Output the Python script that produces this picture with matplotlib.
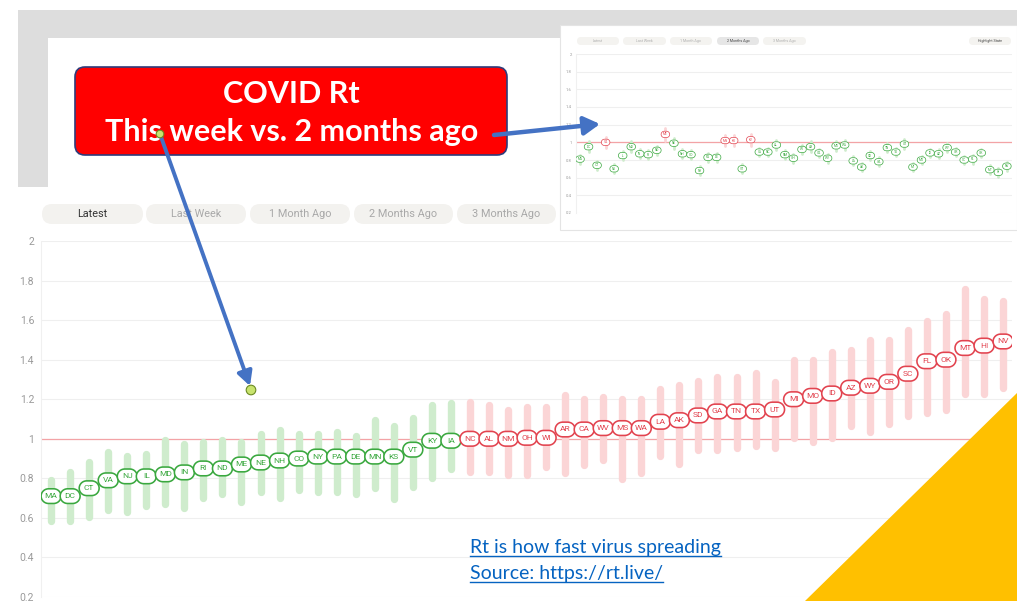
import numpy as np
import matplotlib
matplotlib.use('Agg')
import matplotlib.pyplot as plt
from matplotlib.path import Path
from matplotlib.patches import Rectangle, FancyBboxPatch, Polygon, Circle

plt.rcParams['font.family'] = ['Roboto', 'DejaVu Sans']

# ---- data ----
states = ['MA', 'DC', 'CT', 'VA', 'NJ', 'IL', 'MD', 'IN', 'RI', 'ND',
          'ME', 'NE', 'NH', 'CO', 'NY', 'PA', 'DE', 'MN', 'KS', 'VT',
          'KY', 'IA', 'NC', 'AL', 'NM', 'OH', 'WI', 'AR', 'CA', 'WV',
          'MS', 'WA', 'LA', 'AK', 'SD', 'GA', 'TN', 'TX', 'UT', 'MI',
          'MO', 'ID', 'AZ', 'WY', 'OR', 'SC', 'FL', 'OK', 'MT', 'HI', 'NV']

# latest Rt (main chart)
rt_latest = [0.71, 0.71, 0.75, 0.79, 0.81, 0.81, 0.82, 0.83, 0.85, 0.85,
             0.87, 0.88, 0.89, 0.90, 0.91, 0.91, 0.91, 0.91, 0.91, 0.945,
             0.99, 0.99, 1.00, 1.00, 1.00, 1.005, 1.005, 1.047, 1.047, 1.054,
             1.054, 1.054, 1.086, 1.094, 1.118, 1.138, 1.138, 1.138, 1.148, 1.20,
             1.217, 1.229, 1.258, 1.268, 1.288, 1.329, 1.392, 1.40, 1.459, 1.471, 1.492]
rt_low = [0.583, 0.583, 0.603, 0.642, 0.630, 0.662, 0.671, 0.652, 0.703, 0.723,
          0.681, 0.732, 0.703, 0.743, 0.732, 0.732, 0.723, 0.752, 0.693, 0.755,
          0.802, 0.845, 0.832, 0.832, 0.815, 0.815, 0.855, 0.825, 0.866, 0.892,
          0.795, 0.825, 0.914, 0.874, 0.945, 0.945, 0.955, 0.965, 0.954, 1.005,
          0.985, 1.005, 1.064, 1.034, 1.073, 1.115, 1.132, 1.144, 1.225, 1.225, 1.256]
rt_high = [0.794, 0.833, 0.884, 0.934, 0.914, 0.924, 0.995, 0.975, 0.985, 0.995,
           0.985, 1.025, 1.044, 1.025, 1.025, 1.035, 1.015, 1.095, 1.064, 1.103,
           1.171, 1.183, 1.185, 1.171, 1.143, 1.161, 1.161, 1.220, 1.202, 1.212,
           1.202, 1.202, 1.252, 1.272, 1.291, 1.311, 1.311, 1.331, 1.285, 1.40,
           1.40, 1.437, 1.449, 1.498, 1.498, 1.549, 1.598, 1.629, 1.759, 1.708, 1.698]

# Rt two months ago (inset screenshot)
rt_2mo = [0.81, 0.95, 0.74, 1.00, 0.70, 0.85, 0.95, 0.87, 0.86, 0.91,
          1.09, 0.99, 0.87, 0.86, 0.68, 0.83, 0.83, 1.02, 1.02, 0.70,
          1.03, 0.89, 0.89, 0.97, 0.86, 0.82, 0.92, 0.95, 0.88, 0.82,
          0.96, 0.97, 0.79, 0.72, 0.85, 0.78, 0.94, 0.89, 0.98, 0.72,
          0.80, 0.88, 0.87, 0.94, 0.89, 0.80, 0.81, 0.88, 0.69, 0.66, 0.73]
err_2mo = [0.05, 0.06, 0.05, 0.06, 0.05, 0.05, 0.06, 0.05, 0.05, 0.05,
           0.07, 0.06, 0.05, 0.05, 0.05, 0.05, 0.05, 0.06, 0.06, 0.05,
           0.07, 0.05, 0.05, 0.06, 0.05, 0.05, 0.05, 0.06, 0.05, 0.05,
           0.06, 0.06, 0.05, 0.05, 0.05, 0.05, 0.05, 0.05, 0.06, 0.05,
           0.05, 0.05, 0.05, 0.05, 0.05, 0.05, 0.05, 0.05, 0.05, 0.05, 0.05]

y_ticks = [0.2, 0.4, 0.6, 0.8, 1.0, 1.2, 1.4, 1.6, 1.8, 2.0]
y_labels = ['0.2', '0.4', '0.6', '0.8', '1', '1.2', '1.4', '1.6', '1.8', '2']
buttons = ['Latest', 'Last Week', '1 Month Ago', '2 Months Ago', '3 Months Ago']

W, H = 1017, 612
GREEN, RED = '#3aa83f', '#e2434f'
GREEN_BAR, RED_BAR = '#cfeccd', '#fbd5d6'
BLUE = '#4472C4'


def frac(x0, y0, x1, y1):
    # pixel box (top-left origin) -> figure fraction rect
    return [x0 / W, 1 - y1 / H, (x1 - x0) / W, (y1 - y0) / H]


def pill_marker():
    ang = np.linspace(-np.pi / 2, np.pi / 2, 16)
    right = np.column_stack([0.18 + 0.5 * np.cos(ang), 0.5 * np.sin(ang)])
    left = np.column_stack([-0.18 - 0.5 * np.cos(ang), -0.5 * np.sin(ang)])
    verts = np.vstack([right, left, right[:1]])
    codes = [Path.MOVETO] + [Path.LINETO] * (len(verts) - 2) + [Path.CLOSEPOLY]
    return Path(verts, codes)


def rt_panel(ax, vals, lo, hi, bar_lw, pill_s, pill_lw, fs, tick_fs, tick_pad):
    x = np.arange(len(states))
    up = np.array(vals) >= 1.0
    ax.set_ylim(0.2, 2.0)
    ax.set_yticks(y_ticks)
    ax.set_yticklabels(y_labels)
    ax.set_xticks([])
    ax.tick_params(axis='y', length=0, labelsize=tick_fs, labelcolor='#9a9a9a', pad=tick_pad)
    ax.grid(axis='y', color='#efefef', lw=0.8)
    ax.set_axisbelow(True)
    for s in ax.spines.values():
        s.set_visible(False)
    ax.spines['left'].set_visible(True)
    ax.spines['left'].set_color('#f0f0f0')
    ax.axhline(1.0, color='#f3a3a6', lw=0.9, zorder=1)
    ax.vlines(x, lo, hi, colors=np.where(up, RED_BAR, GREEN_BAR), lw=bar_lw,
              capstyle='round', zorder=2)
    edge = np.where(up, RED, GREEN)
    ax.scatter(x, vals, s=pill_s, marker=pill_marker(), facecolor='white',
               edgecolors=edge, linewidths=pill_lw, zorder=3)
    for xi, yi, st, c in zip(x, vals, states, edge):
        ax.text(xi, yi, st, ha='center', va='center', fontsize=fs, color=c, zorder=4)


fig = plt.figure(figsize=(W / 100, H / 100), dpi=100)

# background layer: grey frame, buttons, inset panel
bg = fig.add_axes([0, 0, 1, 1], zorder=0)
bg.set_xlim(0, W)
bg.set_ylim(H, 0)
bg.axis('off')
bg.add_patch(Rectangle((18, 10), W - 18, 28, color='#dddddd', lw=0))
bg.add_patch(Rectangle((18, 10), 30, 177, color='#dddddd', lw=0))

btn_x = [(42, 143), (146, 246), (250, 350), (354, 453), (457, 556)]
for (x0, x1), lab in zip(btn_x, buttons):
    bg.add_patch(FancyBboxPatch((x0, 204), x1 - x0, 20,
                                boxstyle='round,pad=0,rounding_size=10',
                                fc='#f3f2ef', ec='none'))
    bg.text((x0 + x1) / 2, 214, lab, ha='center', va='center', fontsize=7.8,
            color='#333333' if lab == 'Latest' else '#a8a8a8')

# inset screenshot panel
bg.add_patch(Rectangle((560, 25), W - 560, 205, fc='white', ec='#e4e4e4', lw=0.8))
ibtn_x = [(576, 620), (622, 667), (669, 713), (716, 760), (762, 807)]
for (x0, x1), lab in zip(ibtn_x, buttons):
    active = lab == '2 Months Ago'
    bg.add_patch(FancyBboxPatch((x0 + 1, 37), x1 - x0 - 2, 8,
                                boxstyle='round,pad=0,rounding_size=4',
                                fc='#e6e6e6' if active else '#f4f3f0', ec='none'))
    bg.text((x0 + x1) / 2, 41, lab, ha='center', va='center', fontsize=2.6,
            color='#444444' if active else '#b0b0b0')
bg.add_patch(FancyBboxPatch((969, 37), 42, 8, boxstyle='round,pad=0,rounding_size=4',
                            fc='#f4f3f0', ec='none'))
bg.text(990, 41, 'Highlight State', ha='center', va='center', fontsize=2.6, color='#444444')

# main chart: latest Rt
ax = fig.add_axes(frac(41, 241, 1012, 597), zorder=1)
ax.patch.set_alpha(0)
rt_panel(ax, rt_latest, rt_low, rt_high, bar_lw=5.3, pill_s=205, pill_lw=1.15,
         fs=6.0, tick_fs=7.5, tick_pad=5)
ax.set_xlim(-0.53, 50.47)

# inset chart: 2 months ago
lo_2mo = [v - e for v, e in zip(rt_2mo, err_2mo)]
hi_2mo = [v + e for v, e in zip(rt_2mo, err_2mo)]
axi = fig.add_axes(frac(576, 54, 1012, 213), zorder=2)
axi.patch.set_alpha(0)
rt_panel(axi, rt_2mo, lo_2mo, hi_2mo, bar_lw=2.0, pill_s=38, pill_lw=0.5,
         fs=2.3, tick_fs=3, tick_pad=3)
axi.set_xlim(-0.47, 50.6)

# overlay layer: callout box, arrows, note, corner triangle
top = fig.add_axes([0, 0, 1, 1], zorder=10)
top.set_xlim(0, W)
top.set_ylim(H, 0)
top.axis('off')
top.patch.set_alpha(0)

top.add_patch(Polygon([(805, 601), (W, 601), (W, 393)], closed=True, fc='#FFC000', ec='none'))

top.add_patch(FancyBboxPatch((75, 67), 432, 88, boxstyle='round,pad=0,rounding_size=10',
                             fc='#ff0000', ec='#2f3b7a', lw=1.2))
top.text(291, 94, 'COVID Rt', ha='center', va='center', fontsize=22,
         fontweight='bold', color='white', family=['Lato', 'DejaVu Sans'])
top.text(292, 132, 'This week vs. 2 months ago', ha='center', va='center', fontsize=22,
         fontweight='bold', color='white', family=['Lato', 'DejaVu Sans'])

top.annotate('', xy=(600, 124), xytext=(494, 135),
             arrowprops=dict(arrowstyle='-|>,head_length=0.95,head_width=0.55',
                             lw=3.2, color=BLUE, shrinkA=0, shrinkB=0))
top.annotate('', xy=(250, 386), xytext=(160, 134),
             arrowprops=dict(arrowstyle='-|>,head_length=0.85,head_width=0.45',
                             lw=2.8, color=BLUE, shrinkA=0, shrinkB=0))
top.add_patch(Circle((160, 134), 3.8, fc='#c8e36e', ec='#6b8a22', lw=0.8, zorder=5))
top.add_patch(Circle((251, 390), 4.8, fc='#c8e36e', ec='#6b8a22', lw=0.8, zorder=5))

notes = []
for yy, txt in [(548, 'Rt is how fast virus spreading'), (574, 'Source: https://rt.live/')]:
    notes.append(top.text(470, yy, txt, ha='left', va='center', fontsize=14,
                          color='#0563C1', family=['Lato', 'DejaVu Sans']))

# underline the note lines
fig.canvas.draw()
inv = top.transData.inverted()
for t in notes:
    bb = t.get_window_extent()
    (x0, y0), (x1, y1) = inv.transform([(bb.x0, bb.y0), (bb.x1, bb.y1)])
    top.plot([x0, x1], [y0 - 1, y0 - 1], color='#0563C1', lw=1.0)

fig.savefig('out.png', dpi=100)
